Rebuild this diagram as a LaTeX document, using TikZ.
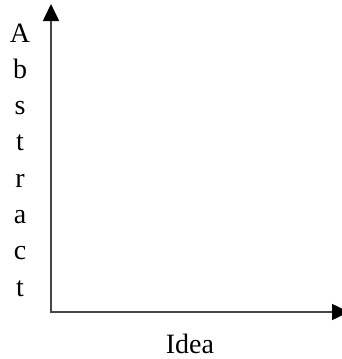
\documentclass[tikz,border=0pt]{standalone}
\usepackage{fontspec}
\setmainfont{Liberation Serif}
\usetikzlibrary{arrows.meta}
\begin{document}
\begin{tikzpicture}[x=1pt,y=-1pt,
  axis/.style={line width=1.6pt,draw={rgb,255:red,70;green,70;blue,70},
    {Triangle[length=17pt,width=16pt,black]}-{Triangle[length=17pt,width=16pt,black]}},
  lbl/.style={font=\fontsize{28}{28}\selectfont,inner sep=0pt,text=black}]
\useasboundingbox (0,0) rectangle (341,359);
\coordinate (top) at (51,4);
\coordinate (origin) at (51,312);
\coordinate (right) at (349,312);
\draw[axis] (top) -- (origin) -- (right);
\foreach \l [count=\i from 0] in {A,b,s,t,r,a,c,t}
  \node[lbl,anchor=base] (v\i) at (20,{42+\i*36.3}) {\l};
\node[lbl,anchor=base] (idea) at (190,353.5) {Idea};
\end{tikzpicture}
\end{document}
